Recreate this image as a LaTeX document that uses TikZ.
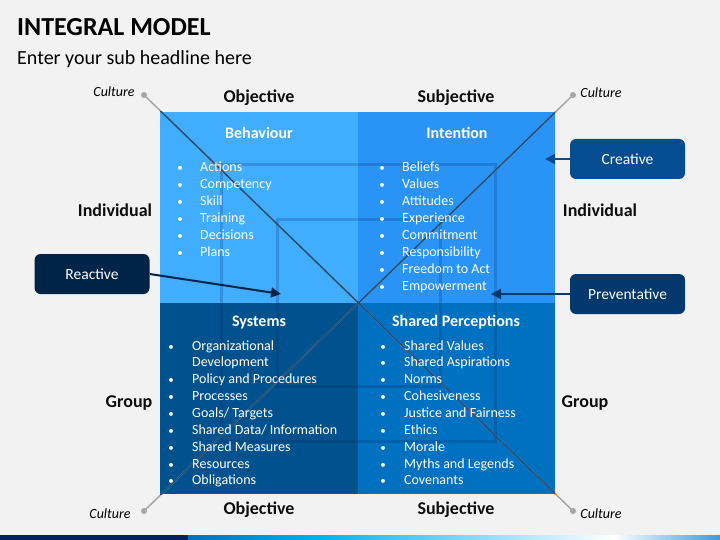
\documentclass[tikz,border=0pt]{standalone}
\usepackage{fontspec}
\setmainfont{Carlito}
\usetikzlibrary{positioning,arrows.meta}

\definecolor{slidebg}{HTML}{F2F2F2}
\definecolor{behBlue}{HTML}{41ADFF}
\definecolor{intBlue}{HTML}{2A93F6}
\definecolor{sysBlue}{HTML}{00528E}
\definecolor{shaBlue}{HTML}{0070C0}
\definecolor{creBlue}{HTML}{054D93}
\definecolor{preBlue}{HTML}{02386B}
\definecolor{reaBlue}{HTML}{002448}
\definecolor{navy}{HTML}{002060}
\definecolor{diagBlue}{HTML}{1F4E79}
\definecolor{barA}{HTML}{0070C0}
\definecolor{barB}{HTML}{00B0F0}
\definecolor{barD}{HTML}{3A9BDC}

\pgfdeclarehorizontalshading{barshade}{100bp}{color(0bp)=(barA); color(25bp)=(barA);
  color(37bp)=(barB); color(65bp)=(white); color(75bp)=(barD); color(100bp)=(barD)}

\tikzset{
  quad/.style={anchor=north west, inner sep=0, minimum height=191pt},
  head/.style={anchor=base, inner sep=0, text=white, font=\fontsize{16}{18}\selectfont\bfseries},
  item/.style={anchor=base west, inner sep=0, text=white, font=\fontsize{14}{16}\selectfont},
  dot/.style={anchor=base, inner sep=0, text=white, font=\fontsize{11}{12}\selectfont},
  axis/.style={anchor=base, inner sep=0, text=black!95, font=\fontsize{18}{20}\selectfont\bfseries},
  culture/.style={anchor=base, inner sep=0, font=\fontsize{14}{16}\selectfont\itshape},
  callout/.style={rounded corners=6pt, minimum width=115pt, minimum height=40pt, text=white,
    font=\fontsize{15.5}{17}\selectfont},
  callarrow/.style={line width=2pt, -{Triangle[length=10pt,width=10pt]}},
  frame/.style={draw=navy, draw opacity=0.2, line width=3pt},
  cline/.style={draw=black!35, line width=1.5pt},
}

\begin{document}
\begin{tikzpicture}[x=1pt,y=-1pt]
\fill[slidebg] (0,0) rectangle (720,540);
\useasboundingbox (0,0) rectangle (720,540);

% title
\node[anchor=base west, inner sep=0, font=\fontsize{26}{30}\selectfont\bfseries] (title) at (17,36) {INTEGRAL MODEL};
\node[anchor=base west, inner sep=0, font=\fontsize{20}{24}\selectfont] (subtitle) at (17,65) {Enter your sub headline here};

% quadrants
\node[quad, fill=behBlue, minimum width=198pt] (behQ) at (160,112) {};
\node[quad, fill=intBlue, minimum width=197pt] (intQ) at (358,112) {};
\node[quad, fill=sysBlue, minimum width=198pt] (sysQ) at (160,303) {};
\node[quad, fill=shaBlue, minimum width=197pt] (shaQ) at (358,303) {};

% nested squares
\draw[frame] (221,164.5) rectangle (495,441);
\draw[frame] (277,220) rectangle (440,386);

% culture lines
\coordinate (cTL) at (144,95);
\coordinate (cTR) at (573,95);
\coordinate (cBL) at (144,511);
\coordinate (cBR) at (573,511);
\draw[cline] (cTL) -- (cBR);
\draw[cline] (cTR) -- (cBL);
\begin{scope}
  \clip (160,112) rectangle (555,494);
  \draw[diagBlue, line width=1.5pt] (cTL) -- (cBR);
  \draw[diagBlue, line width=1.5pt] (cTR) -- (cBL);
\end{scope}
\foreach \c in {cTL,cTR,cBL,cBR}
  \fill[black!35] (\c) circle[radius=3pt];

\node[culture] (culTL) at (114,97) {Culture};
\node[culture] (culTR) at (601,98) {Culture};
\node[culture] (culBL) at (110,518) {Culture};
\node[culture] (culBR) at (601,518) {Culture};

% axis labels
\node[axis] (objTop) at (259,103) {Objective};
\node[axis] (subTop) at (456,103) {Subjective};
\node[axis] (objBot) at (259,514) {Objective};
\node[axis] (subBot) at (456,514) {Subjective};
\node[axis] (indL) at (115,216) {Individual};
\node[axis] (indR) at (600,216) {Individual};
\node[axis] (grpL) at (129,407) {Group};
\node[axis] (grpR) at (585,407) {Group};

% Behaviour
\node[head] (behH) at (259,139) {Behaviour};
\foreach \itm [count=\i] in {Actions,Competency,Skill,Training,Decisions,Plans}{
  \node[dot] (behD\i) at (180,{172+16.87*(\i-1)}) {•};
  \node[item] (behI\i) at (200,{172+16.87*(\i-1)}) {\itm};
}

% Intention
\node[head] (intH) at (457,139) {Intention};
\foreach \itm [count=\i] in {Beliefs,Values,Attitudes,Experience,Commitment,Responsibility,Freedom to Act,Empowerment}{
  \node[dot] (intD\i) at (382,{172+16.87*(\i-1)}) {•};
  \node[item] (intI\i) at (402,{172+16.87*(\i-1)}) {\itm};
}

% Systems
\node[head] (sysH) at (259,326) {Systems};
\node[dot] (sysD0) at (171,350) {•};
\node[item] (sysI0) at (192,350) {Organizational};
\node[item] (sysI00) at (192,366.87) {Development};
\foreach \itm [count=\i] in {Policy and Procedures,Processes,Goals/ Targets,Shared Data/ Information,Shared Measures,Resources,Obligations}{
  \node[dot] (sysD\i) at (171,{350+16.87*(\i+1)}) {•};
  \node[item] (sysI\i) at (192,{350+16.87*(\i+1)}) {\itm};
}

% Shared Perceptions
\node[head] (shaH) at (456,326) {Shared Perceptions};
\foreach \itm [count=\i] in {Shared Values,Shared Aspirations,Norms,Cohesiveness,Justice and Fairness,Ethics,Morale,Myths and Legends,Covenants}{
  \node[dot] (shaD\i) at (383,{350+16.87*(\i-1)}) {•};
  \node[item] (shaI\i) at (404,{350+16.87*(\i-1)}) {\itm};
}

% callouts
\node[callout, fill=creBlue] (creative) at (627.5,159) {Creative};
\node[callout, fill=preBlue] (preventative) at (627.5,294) {Preventative};
\node[callout, fill=reaBlue] (reactive) at (92,274) {Reactive};
\coordinate (creTip) at (545,159);
\coordinate (preTip) at (491,294);
\coordinate (reaTip) at (281,294);
\draw[callarrow, creBlue] (creative.west) -- (creTip);
\draw[callarrow, preBlue] (preventative.west) -- (preTip);
\draw[callarrow, reaBlue] (reactive.east) -- (reaTip);

% bottom bar
\fill[navy] (0,535) rectangle (188,540);
\shade[shading=barshade] (188,535) rectangle (720,540);
\end{tikzpicture}
\end{document}
